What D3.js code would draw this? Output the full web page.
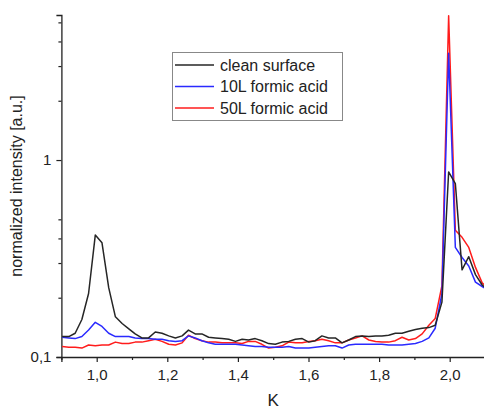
<!DOCTYPE html>
<html>
<head>
<meta charset="utf-8">
<script src="https://cdn.jsdelivr.net/npm/d3@7"></script>
<style>
  body { margin: 0; background: #fff; }
  svg { display: block; }
  text { font-family: Arial, "Liberation Sans", sans-serif; fill: #222; }
</style>
</head>
<body>
<svg id="chart" width="484" height="410"></svg>
<script>
// K positions of the scan points
var kValues = [0.902, 0.921, 0.939, 0.958, 0.977, 0.996, 1.015, 1.034, 1.053, 1.072,
  1.091, 1.109, 1.128, 1.147, 1.166, 1.185, 1.204, 1.223, 1.242, 1.260,
  1.279, 1.298, 1.317, 1.336, 1.355, 1.374, 1.393, 1.412, 1.430, 1.449,
  1.468, 1.487, 1.506, 1.525, 1.544, 1.563, 1.582, 1.601, 1.619, 1.638,
  1.657, 1.676, 1.695, 1.714, 1.733, 1.752, 1.771, 1.790, 1.808, 1.827,
  1.846, 1.865, 1.884, 1.903, 1.922, 1.941, 1.959, 1.978, 1.997, 2.016,
  2.035, 2.054, 2.073, 2.092, 2.110];

var cleanSurface = [0.127, 0.127, 0.132, 0.155, 0.21, 0.416, 0.38, 0.225, 0.16, 0.148,
  0.139, 0.131, 0.125, 0.125, 0.134, 0.132, 0.128, 0.125, 0.128, 0.137,
  0.131, 0.131, 0.126, 0.125, 0.124, 0.123, 0.12, 0.123, 0.122, 0.124,
  0.121, 0.117, 0.116, 0.119, 0.120, 0.123, 0.124, 0.119, 0.121, 0.128,
  0.125, 0.125, 0.118, 0.122, 0.127, 0.128, 0.127, 0.128, 0.128, 0.129,
  0.132, 0.132, 0.135, 0.138, 0.140, 0.141, 0.145, 0.19, 0.87, 0.76,
  0.277, 0.323, 0.262, 0.232, 0.218];

var formic10L = [0.126, 0.125, 0.124, 0.127, 0.137, 0.15, 0.143, 0.132, 0.127, 0.127,
  0.127, 0.125, 0.124, 0.124, 0.123, 0.123, 0.121, 0.12, 0.121, 0.128,
  0.125, 0.121, 0.118, 0.116, 0.116, 0.116, 0.116, 0.115, 0.114, 0.113,
  0.113, 0.112, 0.112, 0.112, 0.113, 0.111, 0.111, 0.111, 0.112, 0.113,
  0.114, 0.114, 0.111, 0.115, 0.116, 0.116, 0.116, 0.116, 0.116, 0.115,
  0.115, 0.115, 0.116, 0.117, 0.12, 0.125, 0.14, 0.21, 3.49, 0.36,
  0.32, 0.29, 0.24, 0.228, 0.218];

var formic50L = [0.113, 0.112, 0.112, 0.111, 0.115, 0.114, 0.115, 0.115, 0.119, 0.117,
  0.117, 0.119, 0.119, 0.121, 0.123, 0.12, 0.116, 0.115, 0.118, 0.129,
  0.124, 0.121, 0.119, 0.119, 0.118, 0.118, 0.118, 0.117, 0.12, 0.12,
  0.116, 0.111, 0.112, 0.114, 0.119, 0.118, 0.118, 0.12, 0.121, 0.123,
  0.121, 0.118, 0.118, 0.122, 0.125, 0.128, 0.122, 0.120, 0.119, 0.119,
  0.121, 0.126, 0.122, 0.124, 0.131, 0.145, 0.157, 0.23, 5.4, 0.44,
  0.405, 0.36, 0.285, 0.238, 0.222];

var seriesNames = ['clean surface', '10L formic acid', '50L formic acid'];
var seriesColors = ['#262626', '#2a2aff', '#ff1c1c'];

var xMajorTicks = [1.0, 1.2, 1.4, 1.6, 1.8, 2.0];
var xMinorTicks = [0.9, 1.1, 1.3, 1.5, 1.7, 1.9, 2.1];
var yMajorTicks = [0.1, 1];
var yMinorTicks = [0.2, 0.3, 0.4, 0.5, 2, 3, 4, 5];

// plot box
var plotLeft = 61.4, plotRight = 485, plotTop = 15, plotBottom = 357;

var svg = d3.select('#chart');

var x = d3.scaleLinear().domain([0.9, 2.1]).range([plotLeft, plotRight]);
var y = d3.scaleLog().domain([0.1, 5.45]).range([plotBottom, plotTop]);

var commaFmt = function (d) { return String(d3.format('.1f')(d)).replace('.', ','); };
var yFmt = function (d) { return d < 1 ? String(d).replace('.', ',') : String(d); };

svg.append('defs').append('clipPath')
    .attr('id', 'clip')
    .append('rect')
    .attr('x', plotLeft)
    .attr('y', plotTop - 2)
    .attr('width', plotRight - plotLeft)
    .attr('height', plotBottom - plotTop + 2);

// x axis
var xAxisMajor = d3.axisBottom(x).tickValues(xMajorTicks).tickSize(5).tickPadding(7).tickFormat(commaFmt);
var xAxisMinor = d3.axisBottom(x).tickValues(xMinorTicks).tickSize(3).tickFormat('');

svg.append('g').attr('class', 'axis axis--x').attr('transform', 'translate(0,' + plotBottom + ')').call(xAxisMajor);
svg.append('g').attr('transform', 'translate(0,' + plotBottom + ')').call(xAxisMinor).select('.domain').remove();

// y axis
var yAxisMajor = d3.axisLeft(y).tickValues(yMajorTicks).tickSize(5).tickPadding(5).tickFormat(yFmt);
var yAxisMinor = d3.axisLeft(y).tickValues(yMinorTicks).tickSize(3).tickFormat('');

svg.append('g').attr('class', 'axis axis--y').attr('transform', 'translate(' + plotLeft + ',0)').call(yAxisMajor);
svg.append('g').attr('transform', 'translate(' + plotLeft + ',0)').call(yAxisMinor).select('.domain').remove();

svg.selectAll('.domain').attr('stroke', '#222').attr('stroke-width', 1.3);
svg.selectAll('.tick line').attr('stroke', '#222').attr('stroke-width', 1.2);
svg.selectAll('.tick text')
    .style('font-family', 'Arial, "Liberation Sans", sans-serif')
    .style('font-size', '15px')
    .attr('fill', '#222');

// axis titles
svg.append('text')
    .attr('x', (plotLeft + plotRight) / 2)
    .attr('y', 406)
    .attr('text-anchor', 'middle')
    .style('font-size', '17px')
    .text('K');

svg.append('text')
    .attr('transform', 'translate(22,' + ((plotTop + plotBottom) / 2) + ') rotate(-90)')
    .attr('text-anchor', 'middle')
    .style('font-size', '16px')
    .text('normalized intensity [a.u.]');

// lines
var line = d3.line()
    .x(function (d) { return x(d[0]); })
    .y(function (d) { return y(d[1]); });

var allSeries = [cleanSurface, formic10L, formic50L].map(function (vals, i) {
    return { id: i, values: kValues.map(function (k, j) { return [k, vals[j]]; }) };
});

var runGroup = svg.append('g').attr('clip-path', 'url(#clip)');
runGroup.selectAll('.run')
    .data(allSeries.slice().reverse())
    .enter().append('path')
    .attr('class', 'run')
    .attr('fill', 'none')
    .attr('stroke-width', 1.5)
    .attr('stroke-linejoin', 'round')
    .attr('stroke', function (d) { return seriesColors[d.id]; })
    .attr('d', function (d) { return line(d.values); });

// legend
var legend = svg.append('g').attr('class', 'legend');
legend.append('rect')
    .attr('x', 172.5)
    .attr('y', 52.5)
    .attr('width', 170)
    .attr('height', 68)
    .attr('fill', '#fff')
    .attr('stroke', '#888')
    .attr('stroke-width', 1);

seriesNames.forEach(function (name, i) {
    var ly = 65 + i * 21.5;
    legend.append('line')
        .attr('x1', 175).attr('x2', 214)
        .attr('y1', ly).attr('y2', ly)
        .attr('stroke', seriesColors[i])
        .attr('stroke-width', 1.5);
    legend.append('text')
        .attr('x', 220)
        .attr('y', ly)
        .attr('dy', '0.35em')
        .style('font-size', '16px')
        .text(name);
});
</script>
</body>
</html>
